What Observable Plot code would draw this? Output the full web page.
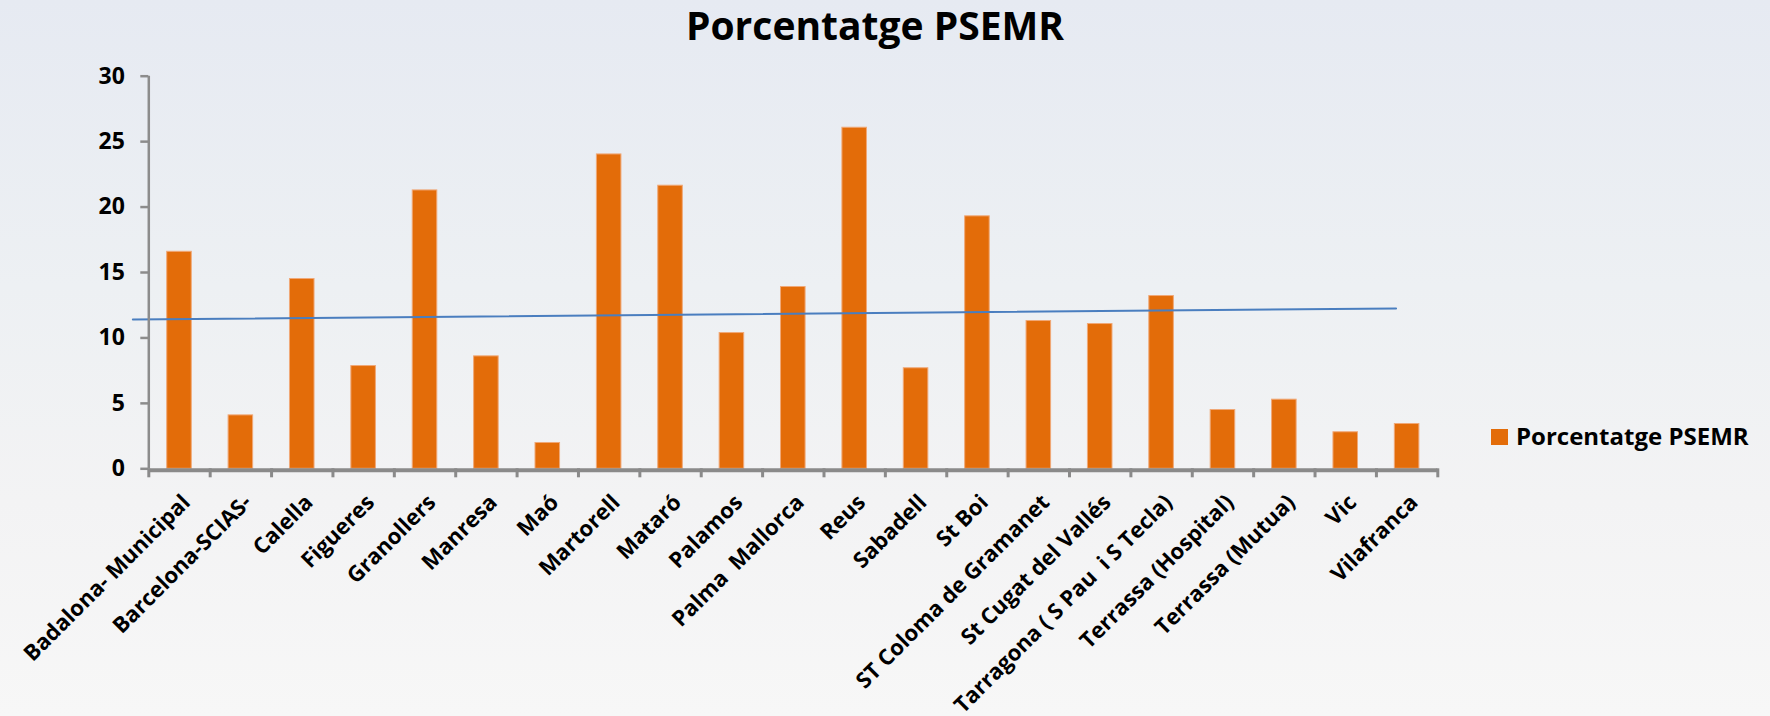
<!DOCTYPE html>
<html>
<head>
<meta charset="utf-8">
<script src="https://cdn.jsdelivr.net/npm/d3@7"></script>
<script src="https://cdn.jsdelivr.net/npm/@observablehq/plot@0.6"></script>
<style>
  html, body { margin: 0; padding: 0; }
  body {
    width: 1770px; height: 716px; overflow: hidden;
    background: linear-gradient(to bottom, #e6eaf2 0%, #edf0f3 40%, #f3f3f4 70%, #f7f7f7 100%);
    font-family: "Open Sans", sans-serif;
  }
  #wrap { position: relative; width: 1770px; height: 716px; }
  #chart { position: absolute; left: 0; top: 0; }
  #title {
    position: absolute; left: 0; top: 5.4px; width: 1750px; text-align: center;
    font-size: 39px; line-height: 39px; font-weight: 700; color: #000;
  }
  #legend-swatch {
    position: absolute; left: 1491px; top: 429px; width: 16.5px; height: 16px;
    background: #E36C09;
  }
  #legend-text {
    position: absolute; left: 1516px; top: 423.7px;
    font-size: 24px; line-height: 24px; font-weight: 700; color: #000; white-space: nowrap;
  }
</style>
</head>
<body>
<div id="wrap">
  <div id="chart"></div>
  <div id="title">Porcentatge PSEMR</div>
  <div id="legend-swatch"></div>
  <div id="legend-text">Porcentatge PSEMR</div>
</div>
<script>
const categories = [
  "Badalona- Municipal", "Barcelona-SCIAS-", "Calella", "Figueres", "Granollers",
  "Manresa", "Maó", "Martorell", "Mataró", "Palamos", "Palma  Mallorca", "Reus",
  "Sabadell", "St Boi", "ST Coloma de Gramanet", "St Cugat del Vallés",
  "Tarragona ( S Pau  i S Tecla)", "Terrassa (Hospital)", "Terrassa (Mutua)", "Vic", "Vilafranca"
];
const values = [
  16.62, 4.12, 14.54, 7.89, 21.31, 8.63, 2.01, 24.06, 21.67, 10.41, 13.93, 26.1,
  7.72, 19.33, 11.33, 11.1, 13.24, 4.53, 5.32, 2.83, 3.46
];
const yTicks = [0, 5, 10, 15, 20, 25, 30];
// trend line endpoints (category position, value)
const trendX = [0.24, 20.82];
const trendY = [11.41, 12.25];

const data = categories.map((name, i) => ({pos: i + 1, name, value: values[i]}));
const trend = trendX.map((x, i) => ({x, y: trendY[i]}));
const boundaries = d3.range(0, categories.length + 1).map(i => i + 0.5);

const chart = Plot.plot({
  width: 1770,
  height: 716,
  marginTop: 75.7,
  marginBottom: 247.7,
  marginLeft: 148.3,
  marginRight: 332.7,
  style: {background: "transparent", fontFamily: "'Open Sans', sans-serif", color: "#000", overflow: "visible"},
  x: {type: "linear", domain: [0.5, categories.length + 0.5], axis: null},
  y: {domain: [0, 30], axis: null},
  marks: [
    Plot.rectY(data, {
      x1: d => d.pos - 0.2, x2: d => d.pos + 0.2, y1: 0, y2: "value",
      fill: "#E36C09", stroke: "#F0A877", strokeWidth: 1, insetTop: 0.5
    }),
    Plot.line(trend, {x: "x", y: "y", stroke: "#4A7EBF", strokeWidth: 2}),
    Plot.ruleX([0.5], {y1: 0, y2: 30, stroke: "#8c8c8c", strokeWidth: 2.5}),
    Plot.axisY(yTicks, {
      anchor: "left", tickSize: 8, tickPadding: 16, stroke: "#8c8c8c", strokeWidth: 2.5,
      fontSize: 23, fontWeight: "bold", fill: "#000", tickFormat: d => String(d)
    }),
    Plot.ruleY([0], {x1: 0.5, x2: categories.length + 0.5, stroke: "#8a8a8a", strokeWidth: 4, dy: 1.4}),
    Plot.axisX(boundaries, {
      anchor: "bottom", tickSize: 9, stroke: "#8a8a8a", strokeWidth: 3, tickFormat: () => ""
    }),
    Plot.text(data, {
      x: "pos", y: 0, text: "name", rotate: -45, textAnchor: "end", lineAnchor: "bottom",
      dx: 12, dy: 35, fontSize: 22, fontWeight: "bold", fill: "#000"
    })
  ]
});
document.getElementById("chart").appendChild(chart);
</script>
</body>
</html>
